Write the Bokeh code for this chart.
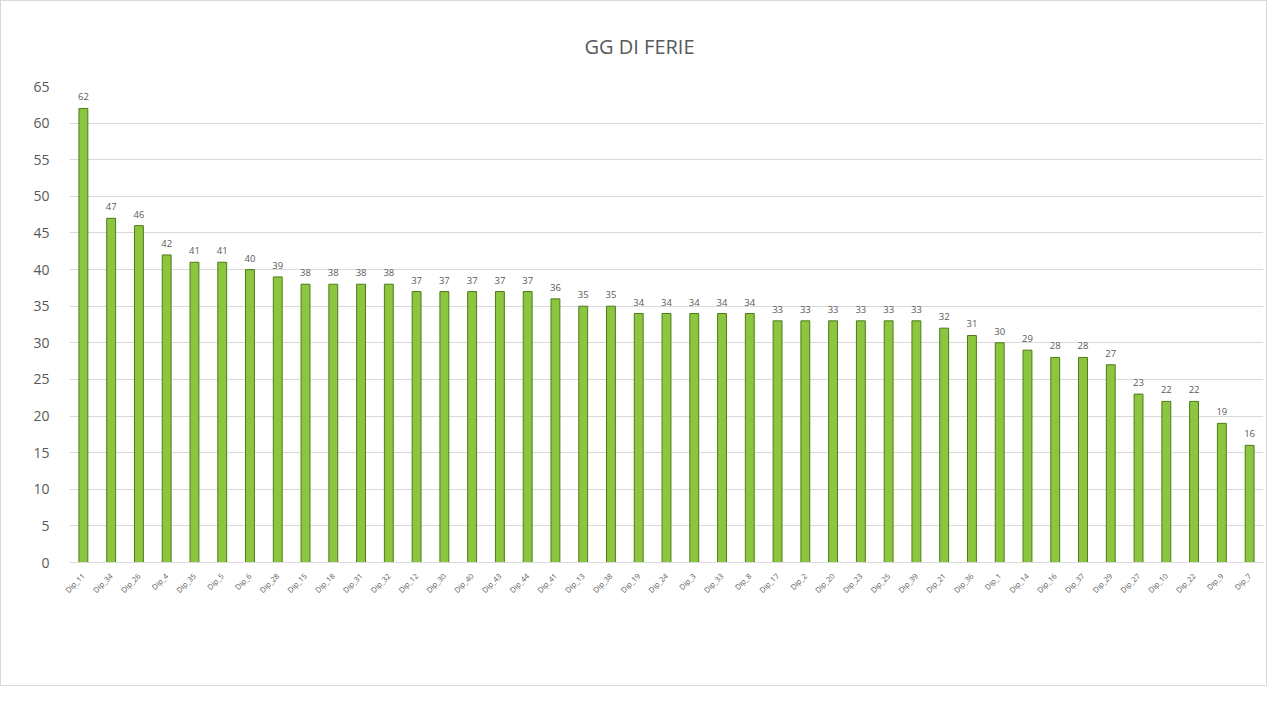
from bokeh.plotting import figure
from bokeh.models import ColumnDataSource, FixedTicker, Range1d, FactorRange
from bokeh.core.properties import value
from bokeh.embed import file_html
from bokeh.resources import INLINE
import math

categories = ["Dip_11", "Dip_34", "Dip_26", "Dip_4", "Dip_35", "Dip_5", "Dip_6", "Dip_28",
              "Dip_15", "Dip_18", "Dip_31", "Dip_32", "Dip_12", "Dip_30", "Dip_40", "Dip_43",
              "Dip_44", "Dip_41", "Dip_13", "Dip_38", "Dip_19", "Dip_24", "Dip_3", "Dip_33",
              "Dip_8", "Dip_17", "Dip_2", "Dip_20", "Dip_23", "Dip_25", "Dip_39", "Dip_21",
              "Dip_36", "Dip_1", "Dip_14", "Dip_16", "Dip_37", "Dip_29", "Dip_27", "Dip_10",
              "Dip_22", "Dip_9", "Dip_7"]
giorni = [62, 47, 46, 42, 41, 41, 40, 39, 38, 38, 38, 38, 37, 37, 37, 37, 37, 36, 35, 35,
          34, 34, 34, 34, 34, 33, 33, 33, 33, 33, 33, 32, 31, 30, 29, 28, 28, 27, 23, 22,
          22, 19, 16]
y_ticks = list(range(0, 70, 5))

src = ColumnDataSource(dict(cat=categories, val=giorni, lab=[str(v) for v in giorni]))

p = figure(width=1267, height=686, output_backend="svg", toolbar_location=None,
           x_range=FactorRange(*categories, range_padding=0),
           y_range=Range1d(0, 65),
           title="GG DI FERIE",
           min_border_left=68, min_border_right=5, min_border_top=85, min_border_bottom=125)

p.title.align = "left"
p.title.offset = 515
p.title.text_font = "Open Sans"
p.title.text_font_size = "20px"
p.title.text_font_style = "normal"
p.title.text_color = "#595959"
p.title.standoff = 54

p.vbar(x="cat", top="val", width=0.32, source=src,
       fill_color="#8cc63f", line_color="#4e7a1e", line_width=1)

p.text(x="cat", y="val", text="lab", source=src, y_offset=-8,
       text_align="center", text_baseline="bottom",
       text_font=value("Open Sans"), text_font_size="9.5px", text_color="#595959")

p.yaxis.ticker = FixedTicker(ticks=y_ticks)
p.yaxis.axis_line_color = None
p.yaxis.major_tick_line_color = None
p.yaxis.minor_tick_line_color = None
p.yaxis.major_label_text_font = "Open Sans"
p.yaxis.major_label_text_font_size = "14px"
p.yaxis.major_label_text_color = "#595959"
p.yaxis.major_label_standoff = 14

p.xaxis.axis_line_color = "#d9d9d9"
p.xaxis.major_tick_line_color = None
p.xaxis.minor_tick_line_color = None
p.xaxis.major_label_orientation = math.pi / 4
p.xaxis.major_label_text_font = "Open Sans"
p.xaxis.major_label_text_font_size = "7.5px"
p.xaxis.major_label_text_color = "#595959"
p.xaxis.major_label_standoff = 6

p.xgrid.grid_line_color = None
p.ygrid.grid_line_color = "#d9d9d9"
p.outline_line_color = None
p.styles = {"border": "1px solid #d9d9d9", "box-sizing": "border-box"}

open("out.html", "w").write(file_html(p, INLINE))
